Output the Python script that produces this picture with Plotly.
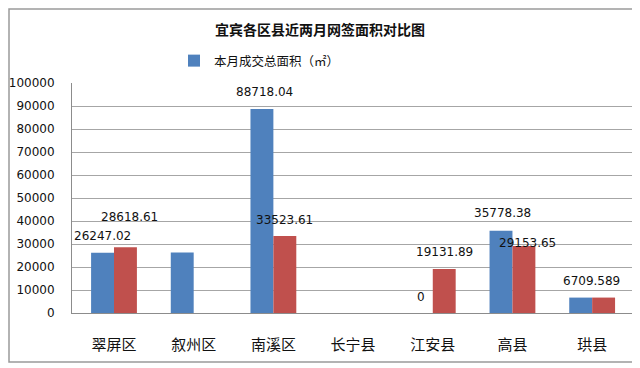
import plotly.graph_objects as go

categories = ["翠屏区", "叙州区", "南溪区", "长宁县", "江安县", "高县", "珙县"]
this_month = [26247.02, 26300, 88718.04, None, 0, 35778.38, 6700]
last_month = [28618.61, None, 33523.61, None, 19131.89, 29153.65, 6709.589]
this_labels = ["26247.02", None, "88718.04", None, "0", "35778.38", None]
last_labels = ["28618.61", None, "33523.61", None, "19131.89", "29153.65", "6709.589"]
legend_name = "本月成交总面积（㎡）"
title_text = "宜宾各区县近两月网签面积对比图"

BLUE = "#4F81BD"
RED = "#C0504D"

fig = go.Figure()
fig.add_trace(go.Bar(x=categories, y=this_month, name=legend_name,
                     marker=dict(color=BLUE, line=dict(width=0))))
fig.add_trace(go.Bar(x=categories, y=last_month, name="上月", showlegend=False,
                     marker=dict(color=RED, line=dict(width=0))))

# label style offsets (pixels) per category: (xshift, yshift)
this_shift = [(0, 8), None, (3, 8), None, (0, 7), (2, 9), None]
last_shift = [(4, 21), None, (0, 7), None, (0, 8), (4, -6), (-12, 8)]

annotations = []
for i, c in enumerate(categories):
    if this_labels[i] is not None:
        xs, ys = this_shift[i]
        annotations.append(dict(x=c, y=this_month[i], text=this_labels[i], xref="x", yref="y",
                                showarrow=False, yanchor="bottom", xanchor="center",
                                xshift=-11.5 + xs, yshift=ys,
                                font=dict(family="DejaVu Sans", size=12, color="#111")))
    if last_labels[i] is not None:
        xs, ys = last_shift[i]
        annotations.append(dict(x=c, y=last_month[i], text=last_labels[i], xref="x", yref="y",
                                showarrow=False, yanchor="bottom", xanchor="center",
                                xshift=11.5 + xs, yshift=ys,
                                font=dict(family="DejaVu Sans", size=12, color="#111")))

# page has an 8px body margin, so the figure is laid out 8px smaller
W, H = 632, 360
L, R, T, B = 64, 8, 75, 55
pw, ph = W - L - R, H - T - B

annotations.append(dict(text="<b>" + title_text + "</b>", xref="paper", yref="paper",
                        x=(312 - L) / pw, y=(H - B - 21) / ph, showarrow=False,
                        xanchor="center", yanchor="middle",
                        font=dict(family="Noto Sans CJK SC", size=14, color="#111")))

fig.update_layout(
    width=W, height=H,
    margin=dict(l=L, r=R, t=T, b=B, autoexpand=False),
    paper_bgcolor="white", plot_bgcolor="white",
    barmode="group", bargap=0.425, bargroupgap=0,
    showlegend=True,
    legend=dict(orientation="h", x=(166 - L) / pw, y=(H - B - 38) / ph,
                xanchor="left", yanchor="top",
                font=dict(family="Noto Sans CJK SC", size=12.5, color="#111"),
                bgcolor="rgba(0,0,0,0)"),
    annotations=annotations,
    shapes=[dict(type="rect", xref="paper", yref="paper",
                 x0=(1 - L) / pw, x1=(629 - L) / pw,
                 y0=(H - B - 354) / ph, y1=(H - B - 1) / ph,
                 line=dict(color="#9a9a9a", width=1.5), fillcolor="rgba(0,0,0,0)", layer="above")],
    xaxis=dict(showgrid=False, showline=True, linecolor="#8c8c8c", linewidth=1,
               ticks="", ticklabelstandoff=18,
               tickfont=dict(family="Noto Sans CJK SC", size=15, color="#111")),
    yaxis=dict(range=[0, 100000], dtick=10000, showgrid=True, gridcolor="#a6a6a6", gridwidth=1,
               showline=True, linecolor="#8c8c8c", linewidth=1, zeroline=False,
               ticks="", ticklabelstandoff=14, tickformat="d",
               tickfont=dict(family="DejaVu Sans", size=12, color="#111")),
)

fig.write_html("out.html")
